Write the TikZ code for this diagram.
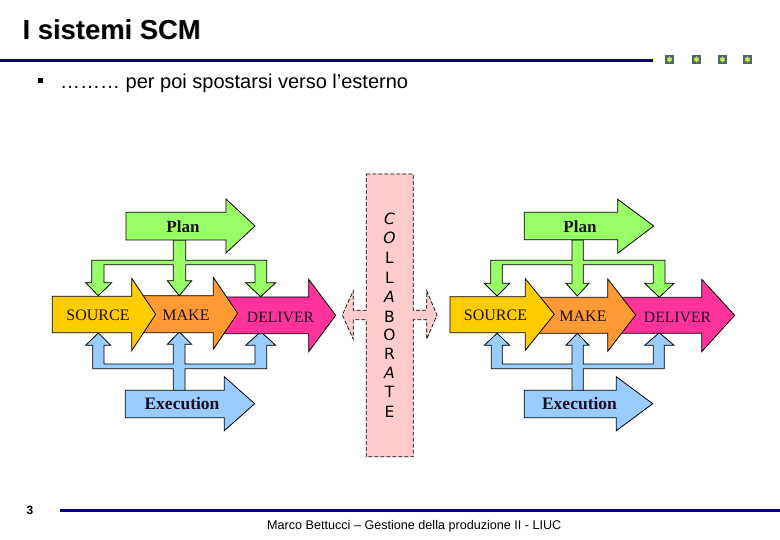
\documentclass[tikz,border=0pt]{standalone}
\usepackage{fontspec}
\setmainfont{Liberation Sans}
\newfontfamily\serifface{Liberation Serif}
\newfontfamily\collabface{DejaVu Sans}
\usetikzlibrary{shapes.geometric}
\definecolor{navyrule}{HTML}{000080}
\definecolor{planG}{HTML}{99FF66}
\definecolor{srcY}{HTML}{FFCC00}
\definecolor{makeO}{HTML}{FF9933}
\definecolor{delM}{HTML}{FF3399}
\definecolor{execB}{HTML}{99CCFF}
\definecolor{collP}{HTML}{FFCCCC}
\definecolor{markS}{HTML}{4F6472}
\definecolor{markY}{HTML}{CCEE44}
\definecolor{labelInk}{HTML}{1A1020}
\newcommand{\blockarrow}[9]{% colour, left, head x, tip x, body top, body bottom, head top, head bottom, tip y
  \path[shapeline,fill=#1] (#2,#5) -- (#3,#5) -- (#3,#7) -- (#4,#9) -- (#3,#8) -- (#3,#6) -- (#2,#6) -- cycle;}
\tikzset{
  shapeline/.style={draw=black,line width=0.8pt,line join=miter},
  rulebar/.style={draw=navyrule,line width=2.6pt},
  difflabel/.style={font=\serifface\fontsize{16}{18}\selectfont,text=labelInk,inner sep=0pt,anchor=center},
  boldlabel/.style={font=\serifface\bfseries\fontsize{17}{19}\selectfont,text=labelInk,inner sep=0pt,anchor=center},
  collabletter/.style={font=\collabface\fontsize{15.5}{18}\selectfont,text=black,inner sep=0pt,anchor=center},
  markbox/.style={fill=markS,minimum size=9pt,inner sep=0pt,draw=none},
  markstar/.style={star,star points=6,star point ratio=1.8,fill=markY,minimum size=6.5pt,inner sep=0pt,draw=none},
}
\begin{document}
\begin{tikzpicture}[x=1pt,y=-1pt]
\useasboundingbox (0,0) rectangle (780,540);
\fill[white] (0,0) rectangle (780,540);

% header
\node[font=\bfseries\fontsize{27.4}{30}\selectfont,text=black!18,anchor=base west,inner sep=0pt] (titleshadow) at (23.4,40) {I sistemi SCM};
\node[font=\bfseries\fontsize{27.4}{30}\selectfont,anchor=base west,inner sep=0pt] (title) at (22.4,39.3) {I sistemi SCM};
\draw[rulebar] (0,60.3) -- (653,60.3);
\foreach \n/\mx in {a/669.5,b/696.5,c/722.5,d/747.5}{
  \node[markbox] (box\n) at (\mx,59.5) {};
  \node[markstar] (star\n) at (\mx,59.5) {};
}
\fill[black] (38,78) rectangle (43,83);
\node[font=\fontsize{20}{24}\selectfont,anchor=base west,inner sep=0pt] (bullet) at (60,88.5) {……… per poi spostarsi verso l’esterno};

% LEFT GROUP
\path[shapeline,fill=planG] (173.3,240) -- (173.3,260.3) -- (91.7,260.3) -- (91.7,282.7) -- (85.7,282.7) -- (98.3,295.7) -- (111.7,282.7) -- (104,282.7) -- (104,264.7) -- (173.3,264.7) -- (173.3,280.7) -- (167.3,280.7) -- (179.3,295.7) -- (191.7,280.7) -- (185.7,280.7) -- (185.7,264.7) -- (255,264.7) -- (255,282.7) -- (245.7,282.7) -- (260.7,296.7) -- (275.7,282.7) -- (266.7,282.7) -- (266.7,260.3) -- (185.7,260.3) -- (185.7,240) -- cycle;
\path[shapeline,fill=execB] (173.3,392) -- (173.3,368.7) -- (92.7,368.7) -- (92.7,345.3) -- (85.7,345.3) -- (98.3,333) -- (110.7,345.3) -- (104,345.3) -- (104,364) -- (173.3,364) -- (173.3,344.3) -- (167.3,344.3) -- (179.3,332) -- (191.7,344.3) -- (185,344.3) -- (185,364) -- (255,364) -- (255,345.3) -- (245.7,345.3) -- (260.7,331.7) -- (275.7,345.3) -- (266.7,345.3) -- (266.7,368.7) -- (185,368.7) -- (185,392) -- cycle;
\blockarrow{planG}{126}{226}{255}{212.3}{240}{199}{253}{226}
\blockarrow{execB}{125.3}{224.3}{254.7}{390.3}{417.7}{376.7}{430.7}{403.7}
\blockarrow{delM}{222}{308.7}{335.7}{297}{333.7}{279.3}{351.7}{315.3}
\blockarrow{makeO}{142}{213.3}{237.7}{295.7}{332.7}{277.3}{349.3}{313.3}
\blockarrow{srcY}{52.3}{131.7}{155.7}{296.3}{332.7}{278.3}{350.7}{314.3}
\node[boldlabel] (planL) at (183,227) {Plan};
\node[boldlabel,font=\serifface\bfseries\fontsize{17.5}{19}\selectfont] (execL) at (182,404) {Execution};
\node[difflabel] (srcL) at (98,315.5) {SOURCE};
\node[difflabel] (makeL) at (186,315.5) {MAKE};
\node[difflabel,font=\serifface\fontsize{15.7}{18}\selectfont] (delL) at (280.5,317.5) {DELIVER};

% COLLABORATE
\path[shapeline,fill=collP,dash pattern=on 4pt off 2pt,line width=0.7pt]
  (366.3,174) -- (413.3,174) -- (413.3,310.3) -- (426.7,310.3) -- (426.7,290.7) -- (437,315) -- (426.7,339.3) -- (426.7,319.7) -- (413.3,319.7) -- (413.3,456.7) -- (366.3,456.7) -- (366.3,319.7) -- (353.3,319.7) -- (353.3,339.3) -- (342.3,315) -- (353.3,290.7) -- (353.3,310.3) -- (366.3,310.3) -- cycle;
\foreach \n/\ly/\ch/\sty in {a/219.3/C/\itshape,b/238.3/O/\itshape,c/258.3/L/\upshape,d/278.3/L/\upshape,e/296.7/A/\itshape,f/316.7/B/\upshape,g/335/O/\upshape,h/354.3/R/\upshape,i/372.7/A/\itshape,j/391.7/T/\upshape,k/411.7/E/\upshape}{
  \node[collabletter] (letter\n) at (389.5,\ly) {\sty\ch};
}

% RIGHT GROUP
\path[shapeline,fill=planG] (572,240) -- (572,260.3) -- (490.7,260.3) -- (490.7,283.3) -- (484.3,283.3) -- (497,296) -- (509.7,283.3) -- (502.3,283.3) -- (502.3,264.7) -- (572,264.7) -- (572,283.3) -- (566,283.3) -- (577.3,296) -- (589,283.3) -- (583.3,283.3) -- (583.3,264.7) -- (653.3,264.7) -- (653.3,283.3) -- (644.7,283.3) -- (659.3,297.3) -- (674,283.3) -- (665,283.3) -- (665,260.3) -- (583.3,260.3) -- (583.3,240) -- cycle;
\path[shapeline,fill=execB] (572,392) -- (572,368.7) -- (491.3,368.7) -- (491.3,345.3) -- (484.3,345.3) -- (497,333.3) -- (509.7,345.3) -- (502.3,345.3) -- (502.3,364) -- (572,364) -- (572,345.3) -- (566,345.3) -- (577.3,333.3) -- (589,345.3) -- (583.3,345.3) -- (583.3,364) -- (653.3,364) -- (653.3,345.3) -- (644.7,345.3) -- (659.3,332.7) -- (674,345.3) -- (664.3,345.3) -- (664.3,368.7) -- (583.3,368.7) -- (583.3,392) -- cycle;
\blockarrow{planG}{524.3}{617.7}{653.7}{212.3}{239.7}{199.3}{253.3}{226}
\blockarrow{execB}{524.3}{616.3}{652.7}{390.3}{417.7}{376.7}{430.7}{403.7}
\blockarrow{delM}{622}{701.7}{734.7}{297.3}{333.3}{279.3}{351.7}{315.3}
\blockarrow{makeO}{538}{607.7}{635.7}{297.3}{333.3}{279}{351.3}{315}
\blockarrow{srcY}{450}{525.3}{554.3}{296.7}{332.7}{278.7}{350.3}{314.3}
\node[boldlabel] (planR) at (580,227) {Plan};
\node[boldlabel,font=\serifface\bfseries\fontsize{17.5}{19}\selectfont] (execR) at (579.5,404) {Execution};
\node[difflabel] (srcR) at (495.5,315.5) {SOURCE};
\node[difflabel] (makeR) at (583,316.5) {MAKE};
\node[difflabel,font=\serifface\fontsize{15.7}{18}\selectfont] (delR) at (677.5,317.5) {DELIVER};

% footer
\node[font=\bfseries\fontsize{12}{14}\selectfont,inner sep=0pt] (pagenum) at (30,510.5) {3};
\draw[rulebar] (60,510.3) -- (780,510.3);
\node[font=\fontsize{12.6}{15}\selectfont,anchor=base west,inner sep=0pt] (footer) at (267,529) {Marco Bettucci – Gestione della produzione II - LIUC};
\end{tikzpicture}
\end{document}
